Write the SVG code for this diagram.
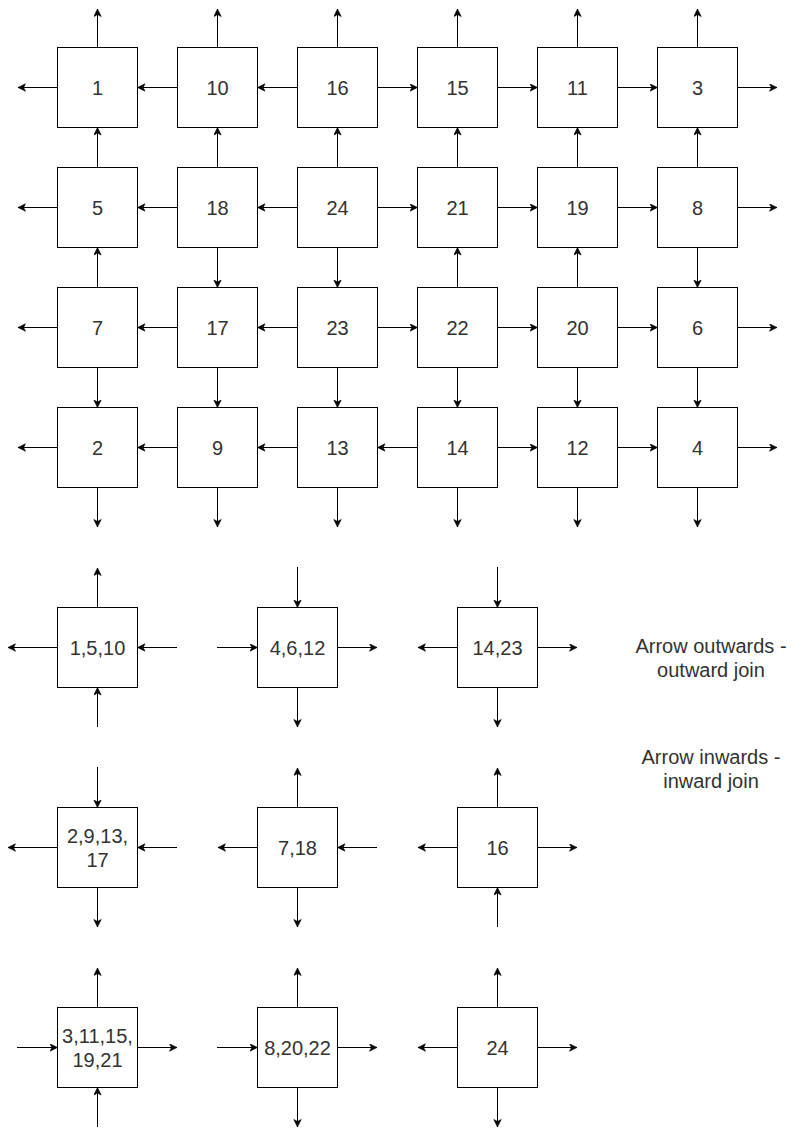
<svg xmlns="http://www.w3.org/2000/svg" width="809" height="1136" viewBox="0 0 809 1136">
<style>
.box rect{fill:#fff;stroke:#000;stroke-width:1}
.box text{font-family:"Liberation Sans",Arial,sans-serif;font-size:20px;fill:#333;text-anchor:middle}
.note text{font-family:"Liberation Sans",Arial,sans-serif;font-size:20px;fill:#333;text-anchor:middle}
#connectors path{fill:none;stroke:#000;stroke-width:1;marker-end:url(#ah)}
</style>
<defs>
<marker id="ah" markerUnits="userSpaceOnUse" markerWidth="10" markerHeight="10" refX="8" refY="4" orient="auto">
<path d="M8,4 L0.5,0.3 L2.4,4 L0.5,7.7 Z" fill="#000" stroke="#000" stroke-width="0.6"/>
</marker>
</defs>
<rect width="809" height="1136" fill="#fff"/>
<g id="connectors">
<!-- row 0 -->
<path d="M57.5,87.5H18"/>
<path d="M177.5,87.5H137.5"/>
<path d="M297.5,87.5H257.5"/>
<path d="M377.5,87.5H417.5"/>
<path d="M497.5,87.5H537.5"/>
<path d="M617.5,87.5H657.5"/>
<path d="M737.5,87.5H777"/>
<path d="M97.5,47.5V9"/>
<path d="M217.5,47.5V9"/>
<path d="M337.5,47.5V9"/>
<path d="M457.5,47.5V9"/>
<path d="M577.5,47.5V9"/>
<path d="M697.5,47.5V9"/>
<!-- row 0-1 -->
<path d="M97.5,167.5V127.5"/>
<path d="M217.5,167.5V127.5"/>
<path d="M337.5,167.5V127.5"/>
<path d="M457.5,167.5V127.5"/>
<path d="M577.5,167.5V127.5"/>
<path d="M697.5,167.5V127.5"/>
<!-- row 1 -->
<path d="M57.5,207.5H18"/>
<path d="M177.5,207.5H137.5"/>
<path d="M297.5,207.5H257.5"/>
<path d="M377.5,207.5H417.5"/>
<path d="M497.5,207.5H537.5"/>
<path d="M617.5,207.5H657.5"/>
<path d="M737.5,207.5H777"/>
<!-- row 1-2 -->
<path d="M97.5,287.5V247.5"/>
<path d="M217.5,247.5V287.5"/>
<path d="M337.5,247.5V287.5"/>
<path d="M457.5,287.5V247.5"/>
<path d="M577.5,287.5V247.5"/>
<path d="M697.5,247.5V287.5"/>
<!-- row 2 -->
<path d="M57.5,327.5H18"/>
<path d="M177.5,327.5H137.5"/>
<path d="M297.5,327.5H257.5"/>
<path d="M377.5,327.5H417.5"/>
<path d="M497.5,327.5H537.5"/>
<path d="M617.5,327.5H657.5"/>
<path d="M737.5,327.5H777"/>
<!-- row 2-3 -->
<path d="M97.5,367.5V407.5"/>
<path d="M217.5,367.5V407.5"/>
<path d="M337.5,367.5V407.5"/>
<path d="M457.5,367.5V407.5"/>
<path d="M577.5,367.5V407.5"/>
<path d="M697.5,367.5V407.5"/>
<!-- row 3 -->
<path d="M57.5,447.5H18"/>
<path d="M177.5,447.5H137.5"/>
<path d="M297.5,447.5H257.5"/>
<path d="M417.5,447.5H377.5"/>
<path d="M497.5,447.5H537.5"/>
<path d="M617.5,447.5H657.5"/>
<path d="M737.5,447.5H777"/>
<path d="M97.5,487.5V527"/>
<path d="M217.5,487.5V527"/>
<path d="M337.5,487.5V527"/>
<path d="M457.5,487.5V527"/>
<path d="M577.5,487.5V527"/>
<path d="M697.5,487.5V527"/>
<!-- legend A 1,5,10 -->
<path d="M97.5,607.5V568"/>
<path d="M57.5,647.5H8"/>
<path d="M177,647.5H137.5"/>
<path d="M97.5,727V687.5"/>
<!-- legend B 4,6,12 -->
<path d="M297.5,567V607.5"/>
<path d="M217,647.5H257.5"/>
<path d="M337.5,647.5H377"/>
<path d="M297.5,687.5V727"/>
<!-- legend C 14,23 -->
<path d="M497.5,567V607.5"/>
<path d="M457.5,647.5H418"/>
<path d="M537.5,647.5H577"/>
<path d="M497.5,687.5V727"/>
<!-- legend D 2,9,13,17 -->
<path d="M97.5,767V807.5"/>
<path d="M57.5,847.5H8"/>
<path d="M177,847.5H137.5"/>
<path d="M97.5,887.5V927"/>
<!-- legend E 7,18 -->
<path d="M297.5,807.5V768"/>
<path d="M257.5,847.5H218"/>
<path d="M377,847.5H337.5"/>
<path d="M297.5,887.5V927"/>
<!-- legend F 16 -->
<path d="M497.5,807.5V768"/>
<path d="M457.5,847.5H418"/>
<path d="M537.5,847.5H577"/>
<path d="M497.5,927V887.5"/>
<!-- legend G 3,11,15,19,21 -->
<path d="M97.5,1007.5V968"/>
<path d="M17,1047.5H57.5"/>
<path d="M137.5,1047.5H177"/>
<path d="M97.5,1127V1087.5"/>
<!-- legend H 8,20,22 -->
<path d="M297.5,1007.5V968"/>
<path d="M217,1047.5H257.5"/>
<path d="M337.5,1047.5H377"/>
<path d="M297.5,1087.5V1127"/>
<!-- legend I 24 -->
<path d="M497.5,1007.5V968"/>
<path d="M457.5,1047.5H418"/>
<path d="M537.5,1047.5H577"/>
<path d="M497.5,1087.5V1127"/>
</g>
<g id="n1" class="box"><rect x="57.5" y="47.5" width="80" height="80"/><text x="97.5" y="94.7">1</text></g>
<g id="n10" class="box"><rect x="177.5" y="47.5" width="80" height="80"/><text x="217.5" y="94.7">10</text></g>
<g id="n16" class="box"><rect x="297.5" y="47.5" width="80" height="80"/><text x="337.5" y="94.7">16</text></g>
<g id="n15" class="box"><rect x="417.5" y="47.5" width="80" height="80"/><text x="457.5" y="94.7">15</text></g>
<g id="n11" class="box"><rect x="537.5" y="47.5" width="80" height="80"/><text x="577.5" y="94.7">11</text></g>
<g id="n3" class="box"><rect x="657.5" y="47.5" width="80" height="80"/><text x="697.5" y="94.7">3</text></g>
<g id="n5" class="box"><rect x="57.5" y="167.5" width="80" height="80"/><text x="97.5" y="214.7">5</text></g>
<g id="n18" class="box"><rect x="177.5" y="167.5" width="80" height="80"/><text x="217.5" y="214.7">18</text></g>
<g id="n24" class="box"><rect x="297.5" y="167.5" width="80" height="80"/><text x="337.5" y="214.7">24</text></g>
<g id="n21" class="box"><rect x="417.5" y="167.5" width="80" height="80"/><text x="457.5" y="214.7">21</text></g>
<g id="n19" class="box"><rect x="537.5" y="167.5" width="80" height="80"/><text x="577.5" y="214.7">19</text></g>
<g id="n8" class="box"><rect x="657.5" y="167.5" width="80" height="80"/><text x="697.5" y="214.7">8</text></g>
<g id="n7" class="box"><rect x="57.5" y="287.5" width="80" height="80"/><text x="97.5" y="334.7">7</text></g>
<g id="n17" class="box"><rect x="177.5" y="287.5" width="80" height="80"/><text x="217.5" y="334.7">17</text></g>
<g id="n23" class="box"><rect x="297.5" y="287.5" width="80" height="80"/><text x="337.5" y="334.7">23</text></g>
<g id="n22" class="box"><rect x="417.5" y="287.5" width="80" height="80"/><text x="457.5" y="334.7">22</text></g>
<g id="n20" class="box"><rect x="537.5" y="287.5" width="80" height="80"/><text x="577.5" y="334.7">20</text></g>
<g id="n6" class="box"><rect x="657.5" y="287.5" width="80" height="80"/><text x="697.5" y="334.7">6</text></g>
<g id="n2" class="box"><rect x="57.5" y="407.5" width="80" height="80"/><text x="97.5" y="454.7">2</text></g>
<g id="n9" class="box"><rect x="177.5" y="407.5" width="80" height="80"/><text x="217.5" y="454.7">9</text></g>
<g id="n13" class="box"><rect x="297.5" y="407.5" width="80" height="80"/><text x="337.5" y="454.7">13</text></g>
<g id="n14" class="box"><rect x="417.5" y="407.5" width="80" height="80"/><text x="457.5" y="454.7">14</text></g>
<g id="n12" class="box"><rect x="537.5" y="407.5" width="80" height="80"/><text x="577.5" y="454.7">12</text></g>
<g id="n4" class="box"><rect x="657.5" y="407.5" width="80" height="80"/><text x="697.5" y="454.7">4</text></g>
<g id="legA" class="box"><rect x="57.5" y="607.5" width="80" height="80"/><text x="97.5" y="654.7">1,5,10</text></g>
<g id="legB" class="box"><rect x="257.5" y="607.5" width="80" height="80"/><text x="297.5" y="654.7">4,6,12</text></g>
<g id="legC" class="box"><rect x="457.5" y="607.5" width="80" height="80"/><text x="497.5" y="654.7">14,23</text></g>
<g id="legD" class="box"><rect x="57.5" y="807.5" width="80" height="80"/><text x="97.5" y="842.7">2,9,13,</text><text x="97.5" y="866.7">17</text></g>
<g id="legE" class="box"><rect x="257.5" y="807.5" width="80" height="80"/><text x="297.5" y="854.7">7,18</text></g>
<g id="legF" class="box"><rect x="457.5" y="807.5" width="80" height="80"/><text x="497.5" y="854.7">16</text></g>
<g id="legG" class="box"><rect x="57.5" y="1007.5" width="80" height="80"/><text x="97.5" y="1042.7">3,11,15,</text><text x="97.5" y="1066.7">19,21</text></g>
<g id="legH" class="box"><rect x="257.5" y="1007.5" width="80" height="80"/><text x="297.5" y="1054.7">8,20,22</text></g>
<g id="legI" class="box"><rect x="457.5" y="1007.5" width="80" height="80"/><text x="497.5" y="1054.7">24</text></g>
<g id="noteOut" class="note"><text x="711" y="653">Arrow outwards -</text><text x="711" y="677">outward join</text></g>
<g id="noteIn" class="note"><text x="711" y="764">Arrow inwards -</text><text x="711" y="788">inward join</text></g>
</svg>
